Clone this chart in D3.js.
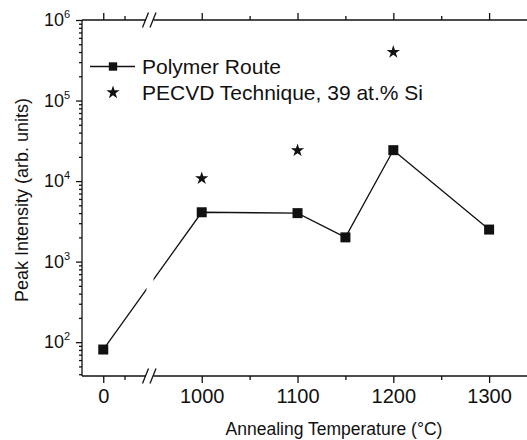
<!DOCTYPE html>
<html>
<head>
<meta charset="utf-8">
<script src="https://cdn.jsdelivr.net/npm/d3@7"></script>
<style>
  body { margin: 0; background: #fff; }
  text { font-family: "Liberation Sans", Arial, sans-serif; fill: #111; }
</style>
</head>
<body>
<div id="chart"></div>
<script>
"use strict";
// polymer route data
var polyTemps = [0, 1000, 1100, 1150, 1200, 1300];
var polyPeaks = [81, 4100, 4000, 2000, 24200, 2500];
// PECVD data
var pecvdTemps = [1000, 1100, 1200];
var pecvdPeaks = [10800, 24000, 400000];
// ticks
var xMajor = [0, 1000, 1100, 1200, 1300];
var xMinor = [50, 1050, 1150, 1250];
var yMajor = [1e2, 1e3, 1e4, 1e5, 1e6];
var yExp = ["2", "3", "4", "5", "6"];
var legendNames = ["Polymer Route", "PECVD Technique, 39 at.% Si"];

var width = 527, height = 440;
var mLeft = 82, mTop = 20, mBottom = 376, mRight = 537;
var breakX = 150;

var svg = d3.select("#chart").append("svg")
    .attr("width", width)
    .attr("height", height);

// broken x axis: left part -50..110, right part 946..1350
var x = d3.scaleLinear()
    .domain([-50, 110, 946, 1350])
    .range([mLeft, breakX, breakX, mRight]);
var y = d3.scaleLog()
    .domain([38, 1e6])
    .range([mBottom, mTop]);

var yMinor = [];
[10, 100, 1000, 10000, 100000].forEach(function (d) {
    for (var k = 2; k <= 9; k++) {
        if (d * k >= 38 && d * k < 1e6) yMinor.push(d * k);
    }
});

var ink = "#111";

// data line
var line = d3.line()
    .x(function (d) { return x(d[0]); })
    .y(function (d) { return y(d[1]); });
var polyData = polyTemps.map(function (t, i) { return [t, polyPeaks[i]]; });
svg.append("path")
    .datum(polyData)
    .attr("d", line)
    .attr("fill", "none")
    .attr("stroke", ink)
    .attr("stroke-width", 1.3);

// gap of the break through the plot
svg.append("rect")
    .attr("x", breakX - 3.5).attr("y", mTop + 1)
    .attr("width", 7).attr("height", mBottom - mTop - 2)
    .attr("fill", "#fff");

svg.selectAll(".sq")
    .data(polyData).enter()
    .append("path")
    .attr("class", "sq")
    .attr("transform", function (d) { return "translate(" + x(d[0]) + "," + y(d[1]) + ")"; })
    .attr("d", d3.symbol(d3.symbolSquare, 100))
    .attr("fill", ink);

svg.selectAll(".star")
    .data(pecvdTemps).enter()
    .append("path")
    .attr("class", "star")
    .attr("transform", function (d, i) { return "translate(" + x(d) + "," + y(pecvdPeaks[i]) + ")"; })
    .attr("d", d3.symbol(d3.symbolStar, 55))
    .attr("fill", ink);

// axes ticks
function styleAxis(g) {
    g.select(".domain").remove();
    g.selectAll("line").attr("stroke", ink).attr("stroke-width", 1.3);
}
svg.append("g").attr("transform", "translate(0," + mBottom + ")")
    .call(d3.axisBottom(x).tickValues(xMajor).tickSize(7).tickSizeOuter(0).tickFormat(function (d) { return d; }))
    .call(styleAxis)
    .call(function (g) {
        g.selectAll("text").attr("font-size", 20).attr("dy", "0.85em").style("font-family", "'Liberation Sans', Arial, sans-serif").attr("fill", ink);
    });
svg.append("g").attr("transform", "translate(0," + mBottom + ")")
    .call(d3.axisBottom(x).tickValues(xMinor).tickSize(4).tickFormat(""))
    .call(styleAxis);
svg.append("g").attr("transform", "translate(0," + mTop + ")")
    .call(d3.axisTop(x).tickValues(xMajor).tickSize(7).tickFormat(""))
    .call(styleAxis);
svg.append("g").attr("transform", "translate(0," + mTop + ")")
    .call(d3.axisTop(x).tickValues(xMinor).tickSize(4).tickFormat(""))
    .call(styleAxis);
svg.append("g").attr("transform", "translate(" + mLeft + ",0)")
    .call(d3.axisLeft(y).tickValues(yMajor).tickSize(6).tickFormat(""))
    .call(styleAxis);
svg.append("g").attr("transform", "translate(" + mLeft + ",0)")
    .call(d3.axisLeft(y).tickValues(yMinor).tickSize(3).tickFormat(""))
    .call(styleAxis);

// axis lines with break marks
[mTop, mBottom].forEach(function (yy) {
    svg.append("line").attr("x1", mLeft).attr("x2", breakX - 4.5).attr("y1", yy).attr("y2", yy)
        .attr("stroke", ink).attr("stroke-width", 1.3);
    svg.append("line").attr("x1", breakX + 3.5).attr("x2", mRight).attr("y1", yy).attr("y2", yy)
        .attr("stroke", ink).attr("stroke-width", 1.3);
    [-4.5, 3].forEach(function (dx) {
        svg.append("line")
            .attr("x1", breakX + dx - 3).attr("y1", yy + 7.5)
            .attr("x2", breakX + dx + 3).attr("y2", yy - 7.5)
            .attr("stroke", ink).attr("stroke-width", 1.3);
    });
});
svg.append("line").attr("x1", mLeft).attr("x2", mLeft).attr("y1", mTop).attr("y2", mBottom)
    .attr("stroke", ink).attr("stroke-width", 1.3);

// y tick labels 10^n
yMajor.forEach(function (v, i) {
    var t = svg.append("text")
        .attr("x", 44).attr("y", y(v) + 6)
        .attr("font-size", 18);
    t.append("tspan").text("10");
    t.append("tspan").attr("font-size", 11).attr("dy", -8).text(yExp[i]);
});

// axis titles
svg.append("text")
    .attr("x", 334).attr("y", 435)
    .attr("text-anchor", "middle")
    .attr("font-size", 17.5)
    .text("Annealing Temperature (\u00B0C)");
svg.append("text")
    .attr("transform", "translate(28,200) rotate(-90)")
    .attr("text-anchor", "middle")
    .attr("font-size", 18)
    .text("Peak Intensity (arb. units)");

// legend
svg.append("line").attr("x1", 90).attr("x2", 135).attr("y1", 66.5).attr("y2", 66.5)
    .attr("stroke", ink).attr("stroke-width", 1.3);
svg.append("path").attr("transform", "translate(113,66.5)")
    .attr("d", d3.symbol(d3.symbolSquare, 70)).attr("fill", ink);
svg.append("path").attr("transform", "translate(113,92.5)")
    .attr("d", d3.symbol(d3.symbolStar, 55)).attr("fill", ink);
svg.append("text").attr("x", 142).attr("y", 73.5).attr("font-size", 21).text(legendNames[0]);
svg.append("text").attr("x", 142).attr("y", 100).attr("font-size", 21).text(legendNames[1]);
</script>
</body>
</html>
